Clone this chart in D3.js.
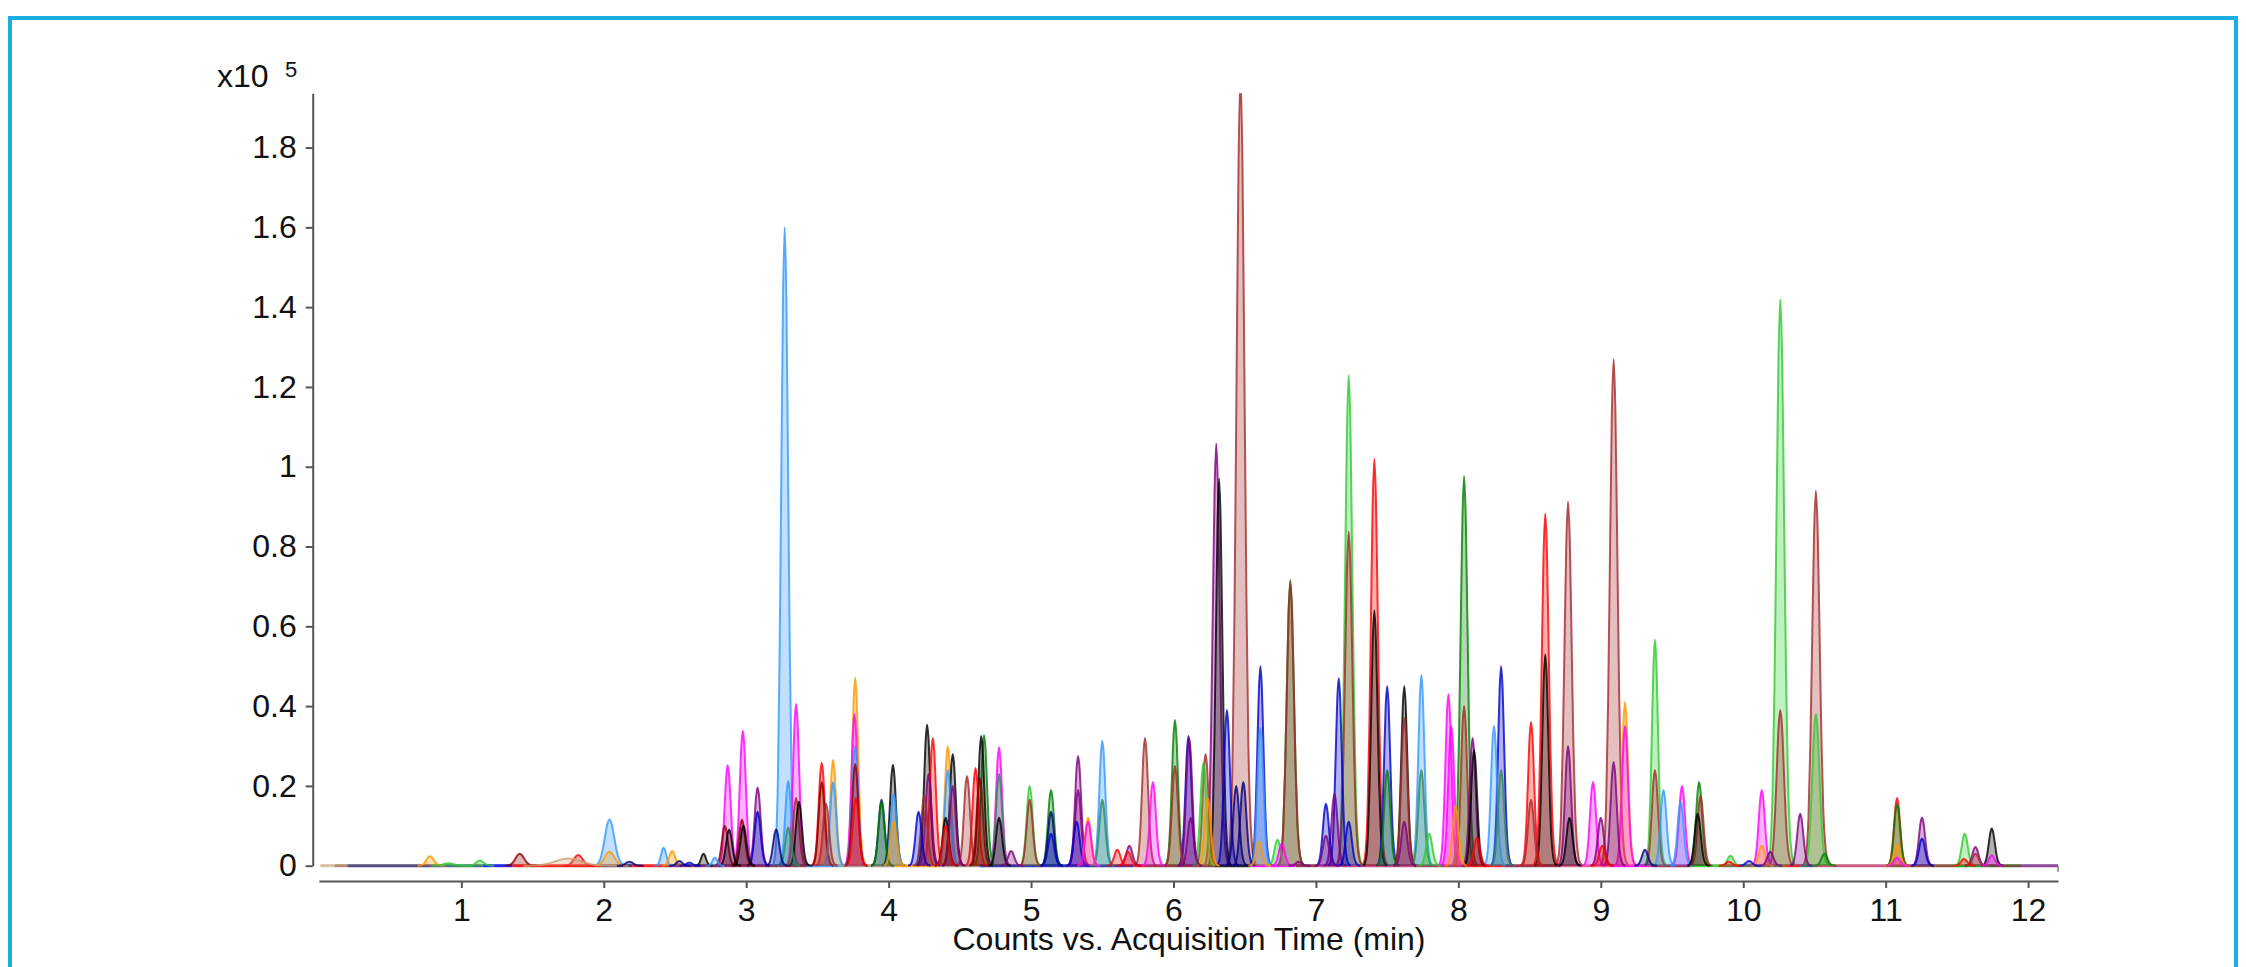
<!DOCTYPE html>
<html>
<head>
<meta charset="utf-8">
<script src="https://cdn.jsdelivr.net/npm/d3@7"></script>
<style>
  body { margin: 0; background: #fff; }
  text { font-family: "Liberation Sans", Arial, sans-serif; fill: #111; }
</style>
</head>
<body>
<svg id="chart" width="2246" height="967"></svg>
<script>
// peaks: [retention time (min), height (x10^5), colour, width (min, optional)]
const peaksEarly = [
	[0.78, 0.024, 'orange', 0.025], [0.91, 0.006, 'green', 0.035], [1.13, 0.013, 'green', 0.025],
	[1.41, 0.030, 'darkred', 0.03], [1.75, 0.018, 'tan', 0.09], [1.82, 0.027, 'red', 0.03],
	[2.04, 0.116, 'dodger', 0.033], [2.04, 0.035, 'orange', 0.033], [2.18, 0.010, 'navy', 0.025],
	[2.42, 0.045, 'dodger', 0.018], [2.48, 0.037, 'orange', 0.02], [2.53, 0.012, 'navy', 0.02],
	[2.60, 0.008, 'blue', 0.02], [2.70, 0.030, 'black', 0.017], [2.78, 0.020, 'dodger', 0.017]
];
const peaks3to4 = [
	[2.85, 0.10, 'darkred'], [2.87, 0.252, 'magenta'], [2.88, 0.09, 'black'],
	[2.97, 0.115, 'darkred'], [2.976, 0.338, 'magenta'], [2.98, 0.10, 'black'],
	[3.08, 0.196, 'purple'], [3.08, 0.135, 'blue'], [3.21, 0.091, 'navy'],
	[3.27, 1.60, 'dodger', 0.024], [3.295, 0.212, 'dodger'], [3.295, 0.095, 'seagreen'],
	[3.35, 0.405, 'magenta'], [3.35, 0.17, 'brown'], [3.37, 0.16, 'black'],
	[3.53, 0.258, 'red'], [3.53, 0.21, 'darkred'], [3.56, 0.155, 'brown'],
	[3.61, 0.265, 'orange'], [3.61, 0.21, 'dodger'],
	[3.765, 0.471, 'orange'], [3.76, 0.38, 'magenta'], [3.765, 0.30, 'dodger'],
	[3.765, 0.255, 'darkred'], [3.77, 0.17, 'red'],
	[3.95, 0.165, 'navy'], [3.95, 0.16, 'darkgreen']
];
const peaks4to6 = [
	[4.03, 0.253, 'black'], [4.035, 0.18, 'dodger'], [4.035, 0.11, 'orange'],
	[4.21, 0.135, 'blue'], [4.25, 0.175, 'brown'], [4.27, 0.353, 'black'],
	[4.28, 0.23, 'purple'], [4.31, 0.32, 'red'], [4.40, 0.12, 'black'], [4.40, 0.10, 'red'],
	[4.415, 0.30, 'orange'], [4.415, 0.24, 'dodger'], [4.45, 0.28, 'black'], [4.45, 0.20, 'purple'],
	[4.55, 0.225, 'brown'], [4.61, 0.245, 'red'], [4.64, 0.22, 'darkred'],
	[4.65, 0.325, 'black'], [4.67, 0.327, 'darkgreen'],
	[4.775, 0.297, 'magenta'], [4.775, 0.23, 'seagreen'], [4.775, 0.12, 'black'],
	[4.86, 0.037, 'purple'], [4.99, 0.20, 'green'], [4.99, 0.165, 'brown'],
	[5.14, 0.19, 'darkgreen'], [5.14, 0.135, 'navy'], [5.14, 0.08, 'blue'],
	[5.33, 0.275, 'purple'], [5.33, 0.19, 'purple'], [5.32, 0.11, 'blue'],
	[5.40, 0.12, 'orange'], [5.40, 0.11, 'magenta'],
	[5.50, 0.313, 'dodger'], [5.50, 0.165, 'seagreen'],
	[5.605, 0.04, 'red'], [5.69, 0.05, 'purple'], [5.68, 0.035, 'red'],
	[5.80, 0.32, 'brown'], [5.855, 0.21, 'magenta'],
	[6.01, 0.365, 'darkgreen'], [6.01, 0.25, 'brown']
];
const peaks6to8 = [
	[6.105, 0.325, 'blue'], [6.11, 0.32, 'purple'], [6.12, 0.12, 'purple'],
	[6.21, 0.258, 'green'], [6.225, 0.28, 'brown'], [6.24, 0.17, 'orange'],
	[6.30, 1.058, 'purple', 0.024], [6.32, 0.97, 'black', 0.022], [6.375, 0.39, 'blue'],
	[6.44, 0.20, 'navy'], [6.47, 1.98, 'brown', 0.028], [6.49, 0.21, 'navy'],
	[6.61, 0.50, 'blue'], [6.61, 0.346, 'dodger'], [6.60, 0.06, 'orange'],
	[6.73, 0.065, 'green'], [6.76, 0.055, 'magenta'],
	[6.82, 0.716, 'darkgreen', 0.025], [6.82, 0.71, 'brown', 0.025], [6.88, 0.01, 'purple'],
	[7.07, 0.155, 'blue'], [7.07, 0.075, 'purple'], [7.13, 0.18, 'purple'],
	[7.16, 0.47, 'blue'], [7.23, 1.23, 'green', 0.025], [7.23, 0.837, 'brown', 0.025], [7.23, 0.11, 'blue'],
	[7.41, 1.02, 'red', 0.024], [7.41, 0.64, 'black', 0.022],
	[7.50, 0.45, 'blue'], [7.50, 0.24, 'darkgreen'],
	[7.62, 0.45, 'black'], [7.62, 0.37, 'brown'], [7.62, 0.11, 'purple'],
	[7.74, 0.478, 'dodger'], [7.74, 0.24, 'seagreen'], [7.795, 0.08, 'green'],
	[7.93, 0.43, 'magenta'], [7.95, 0.35, 'magenta'], [7.98, 0.15, 'orange']
];
const peaks8to12 = [
	[8.04, 0.977, 'darkgreen', 0.024], [8.04, 0.40, 'brown'], [8.10, 0.32, 'purple'],
	[8.11, 0.29, 'black'], [8.13, 0.07, 'red'], [8.25, 0.35, 'dodger'],
	[8.30, 0.50, 'blue'], [8.30, 0.24, 'seagreen'],
	[8.51, 0.36, 'red'], [8.51, 0.165, 'brown'], [8.61, 0.883, 'red', 0.024], [8.61, 0.53, 'black'],
	[8.77, 0.912, 'brown', 0.025], [8.77, 0.30, 'purple'], [8.78, 0.12, 'black'],
	[8.945, 0.21, 'magenta'], [9.0, 0.12, 'purple'], [9.01, 0.05, 'red'],
	[9.09, 1.27, 'brown', 0.026], [9.09, 0.26, 'purple'], [9.17, 0.41, 'orange'], [9.17, 0.35, 'magenta'],
	[9.31, 0.04, 'navy'], [9.38, 0.567, 'green'], [9.38, 0.24, 'brown'], [9.44, 0.19, 'dodger'],
	[9.57, 0.20, 'magenta'], [9.56, 0.16, 'dodger'],
	[9.69, 0.21, 'darkgreen'], [9.70, 0.175, 'brown'], [9.68, 0.13, 'black'],
	[9.91, 0.025, 'green'], [9.90, 0.01, 'red'], [10.04, 0.012, 'blue'],
	[10.13, 0.19, 'magenta'], [10.13, 0.05, 'orange'], [10.19, 0.035, 'purple'],
	[10.26, 1.42, 'green', 0.027], [10.26, 0.39, 'brown', 0.025], [10.40, 0.13, 'purple'],
	[10.51, 0.94, 'brown', 0.026], [10.51, 0.38, 'green', 0.025], [10.57, 0.03, 'darkgreen'],
	[11.08, 0.17, 'red'], [11.08, 0.154, 'darkgreen'], [11.08, 0.053, 'orange'], [11.08, 0.02, 'magenta'],
	[11.255, 0.121, 'purple'], [11.255, 0.068, 'blue'],
	[11.555, 0.08, 'green'], [11.55, 0.017, 'red'],
	[11.63, 0.047, 'purple'], [11.63, 0.03, 'brown'],
	[11.745, 0.093, 'black'], [11.745, 0.026, 'magenta']
];

// visible baseline of the overlaid traces: [from, to, colour]
const baseline = [
	[0.01, 0.11, '#d2b48c'], [0.11, 0.20, '#b07850'], [0.20, 0.88, '#3b2d6b'], [0.88, 1.15, '#2b5b6b'],
	[1.15, 1.36, '#0000ee'], [1.36, 1.98, '#ff0000'], [1.98, 2.20, '#4a1a4a'], [2.20, 2.45, '#ff0000'],
	[2.45, 2.88, '#7a1a6a'], [2.88, 3.42, '#8b1a3a'], [3.42, 3.65, '#3399ff'], [3.65, 4.05, '#a09080'],
	[4.05, 4.36, '#ff9900'], [4.36, 4.64, '#a09080'], [4.64, 5.72, '#1a1aa0'], [5.72, 5.80, '#ff0000'],
	[5.80, 6.28, '#8b1a3a'], [6.28, 6.54, '#000000'], [6.54, 6.86, '#ff00ff'], [6.86, 7.00, '#8b1a3a'],
	[7.00, 7.68, '#c0307a'], [7.68, 8.08, '#a02040'], [8.08, 8.31, '#ff0000'], [8.31, 8.72, '#8b1a3a'],
	[8.72, 9.07, '#e05080'], [9.07, 9.35, '#ff00ff'], [9.35, 9.63, '#8b1a3a'], [9.63, 9.84, '#22cc22'],
	[9.84, 10.30, '#6a5a30'], [10.30, 10.40, '#ff0000'], [10.40, 10.50, '#205070'], [10.50, 11.00, '#c04070'],
	[11.00, 11.48, '#7a3a20'], [11.48, 11.72, '#109010'], [11.72, 11.95, '#4a3a10'], [11.95, 12.21, '#7a2a8a']
];

const colors = {
	red: '#ff0000', green: '#2ecc2e', darkgreen: '#008000', blue: '#0000cc', navy: '#000080',
	magenta: '#ff00ff', orange: '#ff9900', dodger: '#3399ff', brown: '#a52a2a', darkred: '#8b0000',
	purple: '#800080', black: '#000000', seagreen: '#2e8b57', tan: '#c8a070'
};

// peak shape, in units of peak width
const profileOffset = [-3.5, -3, -2.5, -2, -1.5, -1, -0.5, 0, 0.5, 1, 1.5, 2, 2.5, 3, 3.5, 4];
const profileLevel  = [0, 0.01, 0.04, 0.13, 0.32, 0.6, 0.88, 1, 0.89, 0.62, 0.34, 0.15, 0.06, 0.02, 0.006, 0];

const xTicks = [1, 2, 3, 4, 5, 6, 7, 8, 9, 10, 11, 12];
const yTicks = [0, 0.2, 0.4, 0.6, 0.8, 1, 1.2, 1.4, 1.6, 1.8];
const xMax = 12.21, yMax = 1.936;
const defaultWidth = 0.021;

let svg = d3.select('#chart');
svg.append('rect').attr('width', 2246).attr('height', 967).style('fill', 'white');
// outer frame
svg.append('rect').attr('x', 10).attr('y', 18).attr('width', 2226).attr('height', 980)
	.style('fill', 'none').style('stroke', '#1aafe0').style('stroke-width', 4);

let x = d3.scaleLinear().domain([0, xMax]).range([318.9, 2058]);
let y = d3.scaleLinear().domain([0, yMax]).range([865.7, 93.3]);

svg.append('clipPath').attr('id', 'plotclip').append('rect')
	.attr('x', 314).attr('y', y(yMax)).attr('width', 1746).attr('height', y(0) - y(yMax) + 6);

let plot = svg.append('g').attr('clip-path', 'url(#plotclip)');

// baseline segments
plot.selectAll('line.base').data(baseline).join('line')
	.attr('class', 'base')
	.attr('x1', d => x(d[0])).attr('x2', d => x(d[1]))
	.attr('y1', y(0)).attr('y2', y(0))
	.style('stroke', d => d[2]).style('stroke-width', 3).style('opacity', 0.85);

let peaks = peaksEarly.concat(peaks3to4, peaks4to6, peaks6to8, peaks8to12);
peaks.sort((a, b) => b[1] - a[1]);	// tall ones first, small ones on top

let area = d3.area()
	.x(d => x(d.t)).y0(y(0)).y1(d => y(d.v))
	.curve(d3.curveMonotoneX);
let line = d3.line()
	.x(d => x(d.t)).y(d => y(d.v))
	.curve(d3.curveMonotoneX);
function shape(p) {
	let w = p[3] || defaultWidth;
	return profileOffset.map((o, i) => ({t: p[0] + o * w, v: p[1] * profileLevel[i]}));
}

let pg = plot.selectAll('g.peak').data(peaks).join('g').attr('class', 'peak');
pg.append('path')
	.attr('d', d => area(shape(d)))
	.style('fill', d => colors[d[2]]).style('fill-opacity', 0.3).style('stroke', 'none');
pg.append('path')
	.attr('d', d => line(shape(d)))
	.style('fill', 'none').style('stroke', d => colors[d[2]])
	.style('stroke-opacity', 0.8).style('stroke-width', 2);

// end marker of the trace
svg.append('line').attr('x1', x(xMax)).attr('x2', x(xMax)).attr('y1', y(0)).attr('y2', y(0) + 6)
	.style('stroke', '#777').style('stroke-width', 1.5);

// axes
let yAxis = svg.append('g').attr('transform', 'translate(312.7,0)')
	.call(d3.axisLeft(y).tickValues(yTicks).tickSize(7).tickSizeOuter(0).tickPadding(9)
		.tickFormat(d => +d.toFixed(1)));
let xAxis = svg.append('g').attr('transform', 'translate(0,881)')
	.call(d3.axisBottom(x).tickValues(xTicks).tickSize(7).tickSizeOuter(0).tickPadding(10));
svg.selectAll('.domain, .tick line').style('stroke', '#555').style('stroke-width', 2);
svg.selectAll('.tick text').style('font-size', '32px').style('fill', '#111')
	.style('font-family', '"Liberation Sans", Arial, sans-serif');

// labels
svg.append('text').attr('x', 1189).attr('y', 950).attr('text-anchor', 'middle')
	.style('font-size', '32px').text('Counts vs. Acquisition Time (min)');
svg.append('text').attr('x', 217).attr('y', 87).style('font-size', '32px').text('x10');
svg.append('text').attr('x', 285).attr('y', 77).style('font-size', '22px').text('5');
</script>
</body>
</html>
